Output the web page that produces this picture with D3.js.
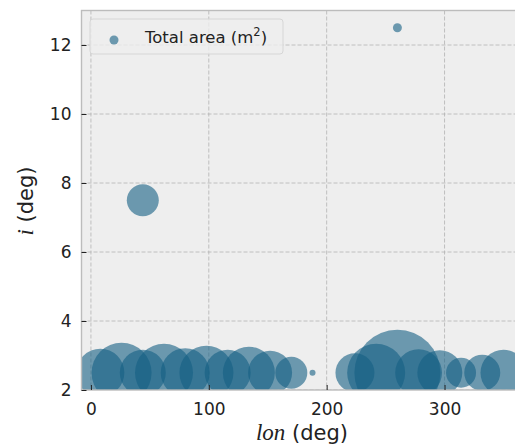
<!DOCTYPE html>
<html>
<head>
<meta charset="utf-8">
<script src="https://cdn.jsdelivr.net/npm/d3@7"></script>
<style>
  html, body { margin: 0; padding: 0; background: #ffffff; }
  svg { display: block; }
  text { font-family: "DejaVu Sans", sans-serif; fill: #222222; }
</style>
</head>
<body>
<svg id="chart" width="515" height="448"></svg>
<script>
// Orbital longitude, inclination and total area of each group
const lonDeg = [8, 26, 44, 62, 80, 98, 116, 134, 152, 170, 188,
                224, 242, 260, 278, 296, 314, 332, 350, 260, 44];
const incDeg = [2.5, 2.5, 2.5, 2.5, 2.5, 2.5, 2.5, 2.5, 2.5, 2.5, 2.5,
                2.5, 2.5, 2.5, 2.5, 2.5, 2.5, 2.5, 2.5, 12.5, 7.5];
const totalArea = [576, 900, 529, 841, 600, 729, 529, 676, 484, 256, 9,
                   380, 841, 1849, 548, 506, 225, 324, 529, 20, 256];
const xTicks = [0, 100, 200, 300];
const yTicks = [2, 4, 6, 8, 10, 12];

const svg = d3.select("#chart");
const plot = { left: 81.5, top: 10.5, bottom: 390 };
const pxPerDeg = 1.1787;
const xMin = -8.0, xMax = 372;

const x = d3.scaleLinear().domain([xMin, xMax])
  .range([plot.left, plot.left + (xMax - xMin) * pxPerDeg]);
const y = d3.scaleLinear().domain([2, 13]).range([plot.bottom, plot.top]);
const r = d3.scaleSqrt().domain([0, d3.max(totalArea)]).range([0, 43]);

const plotW = x.range()[1] - plot.left;
const plotH = plot.bottom - plot.top;

// axes background
svg.append("rect")
  .attr("x", plot.left).attr("y", plot.top)
  .attr("width", plotW).attr("height", plotH)
  .attr("fill", "#eeeeee");

svg.append("defs").append("clipPath").attr("id", "plot-clip")
  .append("rect")
  .attr("x", plot.left).attr("y", plot.top)
  .attr("width", plotW).attr("height", plotH);

// dashed grid
const grid = svg.append("g").attr("clip-path", "url(#plot-clip)");
grid.selectAll("line.gx").data(xTicks).join("line")
  .attr("x1", d => x(d)).attr("x2", d => x(d))
  .attr("y1", plot.top).attr("y2", plot.bottom)
  .attr("stroke", "#b2b2b2").attr("stroke-width", 0.8)
  .attr("stroke-dasharray", "4,2");
grid.selectAll("line.gy").data(yTicks).join("line")
  .attr("x1", plot.left).attr("x2", plot.left + plotW)
  .attr("y1", d => y(d)).attr("y2", d => y(d))
  .attr("stroke", "#b2b2b2").attr("stroke-width", 0.8)
  .attr("stroke-dasharray", "4,2");

// bubbles
const pts = lonDeg.map((d, i) => ({ lon: d, inc: incDeg[i], area: totalArea[i] }));
svg.append("g").attr("clip-path", "url(#plot-clip)")
  .selectAll("circle").data(pts).join("circle")
  .attr("cx", d => x(d.lon))
  .attr("cy", d => y(d.inc))
  .attr("r", d => r(d.area))
  .attr("fill", "rgb(20,95,132)")
  .attr("fill-opacity", 0.6);

// spines
svg.append("rect")
  .attr("x", plot.left).attr("y", plot.top)
  .attr("width", plotW).attr("height", plotH)
  .attr("fill", "none").attr("stroke", "#bcbcbc").attr("stroke-width", 1.4);

// axes with inward ticks
const xAxis = svg.append("g")
  .attr("transform", `translate(0,${plot.bottom})`)
  .call(d3.axisBottom(x).tickValues(xTicks).tickSize(-5).tickPadding(13));
const yAxis = svg.append("g")
  .attr("transform", `translate(${plot.left},0)`)
  .call(d3.axisLeft(y).tickValues(yTicks).tickSize(-5).tickPadding(10));
[xAxis, yAxis].forEach(a => {
  a.select(".domain").remove();
  a.selectAll(".tick line").attr("stroke", "#222222").attr("stroke-width", 1);
  a.selectAll(".tick text")
    .style("font-family", "'DejaVu Sans', sans-serif")
    .style("font-size", "17px").attr("fill", "#222222");
});

// axis labels
const xl = svg.append("text")
  .attr("x", 302).attr("y", 440)
  .attr("text-anchor", "middle").style("font-size", "21px");
xl.append("tspan").text("lon")
  .style("font-family", "'Liberation Serif', serif").style("font-style", "italic")
  .style("font-size", "23px");
xl.append("tspan").text(" (deg)");

const yl = svg.append("text")
  .attr("transform", "translate(33,201) rotate(-90)")
  .attr("text-anchor", "middle").style("font-size", "21px");
yl.append("tspan").text("i")
  .style("font-family", "'Liberation Serif', serif").style("font-style", "italic")
  .style("font-size", "23px");
yl.append("tspan").text(" (deg)");

// legend
const lg = svg.append("g");
lg.append("rect")
  .attr("x", 90).attr("y", 19).attr("width", 193).attr("height", 35).attr("rx", 3)
  .attr("fill", "#eeeeee").attr("fill-opacity", 0.8)
  .attr("stroke", "#d6d6d6").attr("stroke-width", 1);
lg.append("circle")
  .attr("cx", 114).attr("cy", 40).attr("r", 4.5)
  .attr("fill", "rgb(20,95,132)").attr("fill-opacity", 0.6);
const lt = lg.append("text").attr("x", 145).attr("y", 43)
  .style("font-size", "16.5px");
lt.append("tspan").text("Total area (m");
lt.append("tspan").text("2").attr("dy", -7).style("font-size", "11.5px");
lt.append("tspan").text(")").attr("dy", 7);
</script>
</body>
</html>
